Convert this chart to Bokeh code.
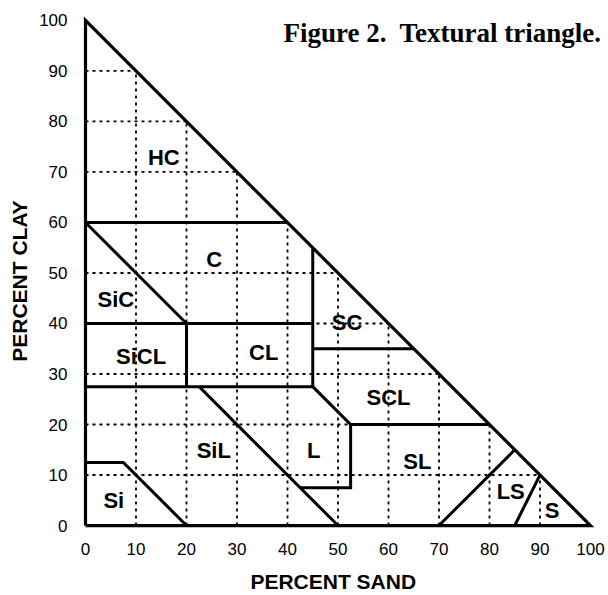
from bokeh.plotting import figure
from bokeh.models import Range1d, FixedTicker, Label, ColumnDataSource
from bokeh.embed import file_html
from bokeh.resources import INLINE
from bokeh.core.properties import value

# ---- data ----
tick_values = [0, 10, 20, 30, 40, 50, 60, 70, 80, 90, 100]
grid_values = [10, 20, 30, 40, 50, 60, 70, 80, 90]

triangle_sand = [0, 100, 0, 0]
triangle_clay = [0, 0, 100, 0]

hc_c_sand = [0, 40]
hc_c_clay = [60, 60]
sic_c_sand = [0, 20]
sic_c_clay = [60, 40]
clay40_sand = [0, 45]
clay40_clay = [40, 40]
sand45_sand = [45, 45]
sand45_clay = [55, 27.5]
sand20_sand = [20, 20]
sand20_clay = [40, 27.5]
clay275_sand = [0, 45]
clay275_clay = [27.5, 27.5]
sc_scl_sand = [45, 65]
sc_scl_clay = [35, 35]
l_scl_sand = [45, 52.5, 80]
l_scl_clay = [27.5, 20, 20]
l_sl_sand = [52.5, 52.5, 42.5]
l_sl_clay = [20, 7.5, 7.5]
sil_l_sand = [22.5, 50]
sil_l_clay = [27.5, 0]
si_sil_sand = [0, 7.5, 20]
si_sil_clay = [12.5, 12.5, 0]
sl_ls_sand = [70, 85]
sl_ls_clay = [0, 15]
ls_s_sand = [85, 90]
ls_s_clay = [0, 10]

class_names = ["HC", "C", "SiC", "SiCL", "CL", "SC", "SCL", "L", "SiL", "Si", "SL", "LS", "S"]
class_sand = [15.5, 25.5, 6, 11, 35.3, 51.8, 60, 45.2, 25.4, 5.6, 65.7, 84.2, 92.4]
class_clay = [72.8, 52.7, 44.8, 33.5, 34.3, 40.2, 25.4, 14.8, 14.8, 4.9, 12.6, 6.7, 3.0]

title_text = "Figure 2.\u00a0 Textural triangle."
x_label = "PERCENT SAND" + "\u00a0" * 3
y_label = "PERCENT CLAY" + "\u00a0" * 5

# ---- figure ----
p = figure(width=608, height=595,
           x_range=Range1d(-1.980, 103.564), y_range=Range1d(-1.380, 103.945),
           output_backend="svg", toolbar_location=None,
           min_border_left=75, min_border_right=0, min_border_top=0,
           min_border_bottom=61)
p.outline_line_color = None
p.xgrid.visible = False
p.ygrid.visible = False
p.background_fill_color = "white"
p.border_fill_color = "white"

for ax in (p.xaxis[0], p.yaxis[0]):
    ax.ticker = FixedTicker(ticks=tick_values)
    ax.axis_line_color = None
    ax.major_tick_line_color = None
    ax.minor_tick_line_color = None
    ax.major_tick_in = 0
    ax.major_tick_out = 0
    ax.major_label_text_font = "Liberation Sans"
    ax.major_label_text_font_size = "17px"
    ax.major_label_text_color = "black"
    ax.axis_label_text_font = "Liberation Sans"
    ax.axis_label_text_font_style = "bold"
    ax.axis_label_text_font_size = "21px"
    ax.axis_label_text_color = "black"

p.xaxis.axis_label = x_label
p.yaxis.axis_label = y_label
p.xaxis.major_label_standoff = 10
p.xaxis.axis_label_standoff = 12
p.yaxis.major_label_standoff = 8
p.yaxis.axis_label_standoff = 5

# dotted grid clipped to triangle
gx = [[v, v] for v in grid_values] + [[0, 100 - v] for v in grid_values]
gy = [[0, 100 - v] for v in grid_values] + [[v, v] for v in grid_values]
p.multi_line(gx, gy, line_color="black", line_width=1.8, line_dash="3 4")

# class boundaries
bx = [hc_c_sand, sic_c_sand, clay40_sand, sand45_sand, sand20_sand, clay275_sand,
      sc_scl_sand, l_scl_sand, l_sl_sand, sil_l_sand, si_sil_sand, sl_ls_sand, ls_s_sand]
by = [hc_c_clay, sic_c_clay, clay40_clay, sand45_clay, sand20_clay, clay275_clay,
      sc_scl_clay, l_scl_clay, l_sl_clay, sil_l_clay, si_sil_clay, sl_ls_clay, ls_s_clay]
p.multi_line(bx, by, line_color="black", line_width=3, line_join="miter")

p.line(triangle_sand, triangle_clay, line_color="black", line_width=3.2, line_join="miter")

src = ColumnDataSource(dict(x=class_sand, y=class_clay, t=class_names))
p.text(x="x", y="y", text="t", source=src, text_align="center", text_baseline="middle",
       text_font=value("Liberation Sans"), text_font_style="bold",
       text_font_size="22px", text_color="black")

p.add_layout(Label(x=39.2, y=97.44, text=title_text, text_align="left",
                   text_baseline="alphabetic", text_font="Liberation Serif",
                   text_font_style="bold", text_font_size="27px", text_color="black"))

open("out.html", "w").write(file_html(p, INLINE))
